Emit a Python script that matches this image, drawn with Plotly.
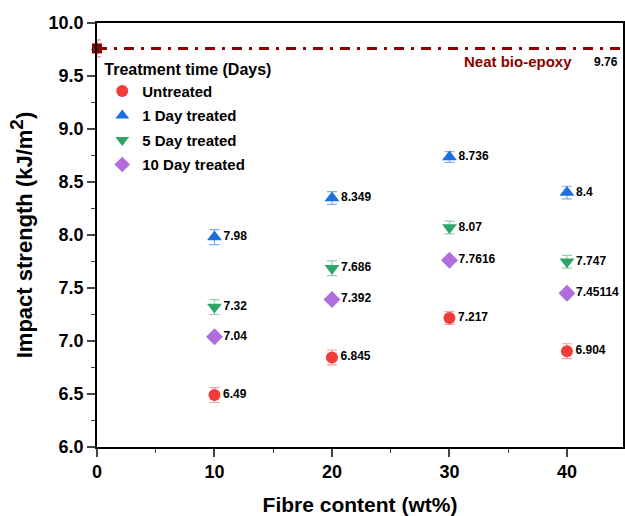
import plotly.graph_objects as go

fibre = [10, 20, 30, 40]
untreated = [6.49, 6.845, 7.217, 6.904]
day1 = [7.98, 8.349, 8.736, 8.4]
day5 = [7.32, 7.686, 8.07, 7.747]
day10 = [7.04, 7.392, 7.7616, 7.45114]
untreated_lbl = ["6.49", "6.845", "7.217", "6.904"]
day1_lbl = ["7.98", "8.349", "8.736", "8.4"]
day5_lbl = ["7.32", "7.686", "8.07", "7.747"]
day10_lbl = ["7.04", "7.392", "7.7616", "7.45114"]
untreated_err = [0.07, 0.07, 0.06, 0.07]
day1_err = [0.07, 0.06, 0.05, 0.06]
day5_err = [0.07, 0.07, 0.06, 0.06]
day10_err = [0.02, 0.02, 0.02, 0.02]
neat_value = 9.76
neat_err = 0.08

FONT = "Arial, Liberation Sans, sans-serif"
fig = go.Figure()

series = [
    ("Untreated", untreated, untreated_err, untreated_lbl, "#f23b3b", "#f7a0a0", "circle", 12),
    ("1 Day treated", day1, day1_err, day1_lbl, "#1f6ee0", "#7fb0f0", "triangle-up", 13),
    ("5 Day treated", day5, day5_err, day5_lbl, "#2ea46a", "#8ed4ae", "triangle-down", 13),
    ("10 Day treated", day10, day10_err, day10_lbl, "#b26ddd", "#d9b5ef", "diamond", 13),
]

# Neat bio-epoxy line
fig.add_trace(go.Scatter(
    x=[0, 45], y=[neat_value, neat_value], mode="lines",
    line=dict(color="#8b0000", width=3, dash="10px,7px,3px,7px"),
    showlegend=False, hoverinfo="skip"))
fig.add_trace(go.Scatter(
    x=[0], y=[neat_value], mode="markers",
    marker=dict(symbol="square", size=10, color="#8b0000"),
    error_y=dict(type="data", array=[neat_err], color="#d07070", thickness=1, width=4),
    showlegend=False, cliponaxis=False))

for name, vals, err, lbl, col, ecol, sym, sz in series:
    fig.add_trace(go.Scatter(
        x=fibre, y=vals, mode="markers+text", name="<b>" + name + "</b>",
        legendgroup=name,
        text=["<b>" + t + "</b>" for t in lbl], textposition="middle right",
        textfont=dict(family=FONT, size=12, color="black"),
        marker=dict(symbol=sym, size=sz, color=col),
        error_y=dict(type="data", array=err, color=ecol, thickness=1.2, width=5),
        cliponaxis=False,
    ))

fig.add_annotation(x=0.80, y=9.76, xref="paper", yref="y", text="<b>Neat bio-epoxy</b>",
                   showarrow=False, yshift=-13, xanchor="center",
                   font=dict(family=FONT, size=15, color="#8b0000"))
fig.add_annotation(x=0.968, y=9.76, xref="paper", yref="y", text="<b>9.76</b>",
                   showarrow=False, yshift=-14, xanchor="center",
                   font=dict(family=FONT, size=12, color="black"))

fig.update_layout(
    width=625, height=516,
    margin=dict(l=97, r=2, t=23, b=69, autoexpand=False),
    plot_bgcolor="white", paper_bgcolor="white",
    font=dict(family=FONT, color="black"),
    legend=dict(
        title=dict(text="<b>Treatment time (Days)</b>", font=dict(family=FONT, size=16)),
        font=dict(family=FONT, size=15, color="black"),
        x=0.01, y=0.927, xanchor="left", yanchor="top",
        bgcolor="rgba(0,0,0,0)", itemsizing="constant", tracegroupgap=2,
    ),
    xaxis=dict(
        range=[0, 44.77], tickvals=[0, 10, 20, 30, 40],
        ticktext=["<b>0</b>", "<b>10</b>", "<b>20</b>", "<b>30</b>", "<b>40</b>"],
        tickfont=dict(family=FONT, size=18), ticks="outside", ticklen=8, tickwidth=1.5,
        minor=dict(tickvals=[5, 15, 25, 35], ticks="outside", ticklen=4, tickwidth=1.2),
        showline=True, linecolor="black", linewidth=1.5, mirror=True,
        showgrid=False, zeroline=False, automargin=False,
        title=dict(text="<b>Fibre content (wt%)</b>", font=dict(family=FONT, size=21), standoff=18),
    ),
    yaxis=dict(
        range=[6.0, 10.0], tickvals=[6.0, 6.5, 7.0, 7.5, 8.0, 8.5, 9.0, 9.5, 10.0],
        ticktext=["<b>%.1f</b>" % v for v in [6.0, 6.5, 7.0, 7.5, 8.0, 8.5, 9.0, 9.5, 10.0]],
        tickfont=dict(family=FONT, size=18), ticks="outside", ticklen=8, tickwidth=1.5,
        minor=dict(tickvals=[6.25, 6.75, 7.25, 7.75, 8.25, 8.75, 9.25, 9.75], ticks="outside", ticklen=4, tickwidth=1.2),
        showline=True, linecolor="black", linewidth=1.5, mirror=True,
        showgrid=False, zeroline=False, automargin=False,
        title=dict(text="<b>Impact strength (kJ/m<sup><span style=\"font-size:19px\">2</span></sup>)</b>",
                   font=dict(family=FONT, size=22), standoff=10),
    ),
)

fig.write_html("out.html", config={"displayModeBar": False},
               post_script="document.body.style.margin='0';document.body.style.overflow='hidden';")
